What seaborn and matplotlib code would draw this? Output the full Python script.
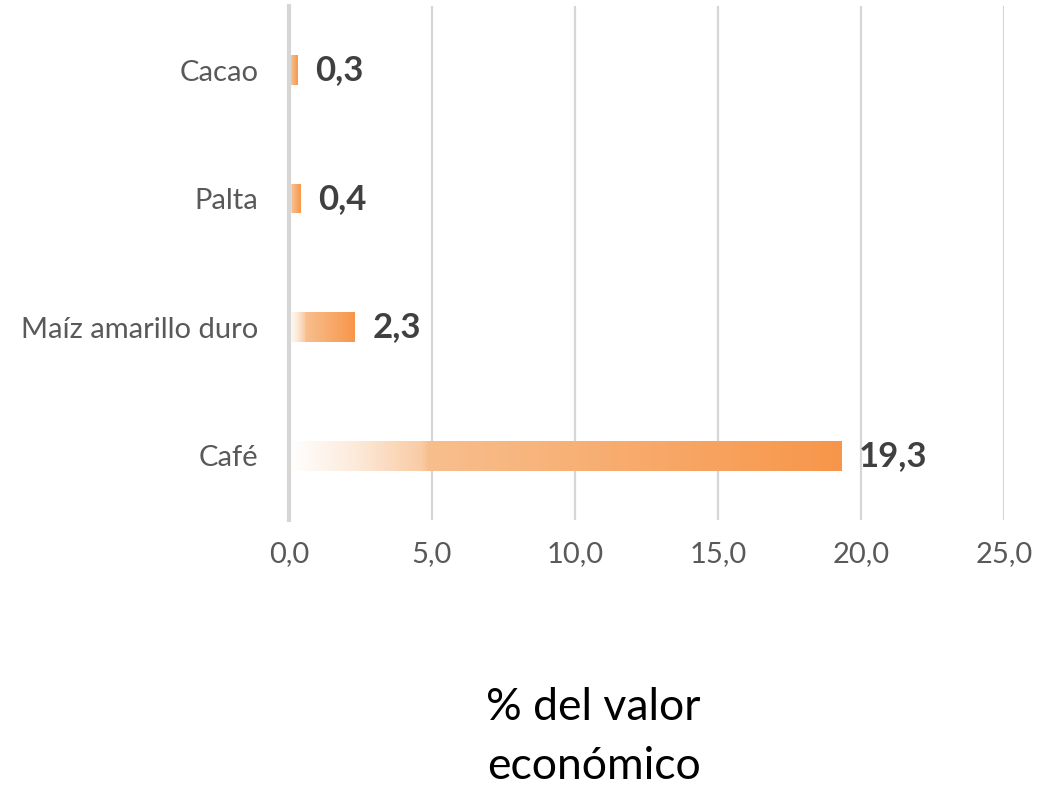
import numpy as np
import matplotlib
matplotlib.use("Agg")
import matplotlib.pyplot as plt
from matplotlib.colors import LinearSegmentedColormap
import seaborn as sns

# -------------------------------------------------------------
#  Datos
# -------------------------------------------------------------
cultivos = ["Cacao", "Palta", "Maíz amarillo duro", "Café"]
valores  = [0.3, 0.4, 2.3, 19.3]
etiquetas = ["0,3", "0,4", "2,3", "19,3"]
x_ticks  = [0, 5, 10, 15, 20, 25]
x_labels = ["0,0", "5,0", "10,0", "15,0", "20,0", "25,0"]

sns.set_theme(style="white")
plt.rcParams["font.family"] = ["Lato", "DejaVu Sans"]

fig = plt.figure(figsize=(10.5, 7.94), dpi=100)
ax = fig.add_axes([0.2752, 0.345, 0.681, 0.6476])

sns.barplot(x=valores, y=cultivos, orient="h", width=0.23,
            color="#F79646", ax=ax)

# degradado blanco -> naranja dentro de cada barra
cmap = LinearSegmentedColormap.from_list(
    "grad",
    [(0.0, "#FFFFFF"), (0.12, "#FCEADA"), (0.24, "#F9CBA4"),
     (0.25, "#F8BF8E"), (1.0, "#F7964A")],
)
grad = np.linspace(0, 1, 256).reshape(1, -1)
for patch in ax.patches:
    x0, y0 = patch.get_x(), patch.get_y()
    w, h = patch.get_width(), patch.get_height()
    patch.set_facecolor("none")
    patch.set_edgecolor("none")
    im = ax.imshow(grad, cmap=cmap, aspect="auto",
                   extent=[x0, x0 + w, y0 + h, y0], zorder=2)
    im.set_clip_path(patch)

for i, (v, lab) in enumerate(zip(valores, etiquetas)):
    ax.annotate(lab, xy=(v, i), xytext=(13, 0), textcoords="offset points",
                ha="left", va="center", fontsize=25, fontweight="bold",
                color="#404040")

ax.set_xlim(0, 25)
ax.set_ylim(3.5, -0.5)
ax.set_xticks(x_ticks)
ax.set_xticklabels(x_labels)
ax.grid(axis="x", color="#D6D6D6", linewidth=1.6, zorder=0)
ax.set_axisbelow(True)
for s in ["top", "right", "bottom"]:
    ax.spines[s].set_visible(False)
ax.spines["left"].set_color("#D6D6D6")
ax.spines["left"].set_linewidth(3)

ax.tick_params(axis="x", length=0, pad=15, labelsize=21, labelcolor="#595959")
ax.tick_params(axis="y", length=0, pad=22, labelsize=21, labelcolor="#595959")

ax.set_ylabel("")
ax.set_xlabel("% del valor\neconómico", fontsize=32, color="black",
              linespacing=1.55)
ax.xaxis.set_label_coords(0.426, -0.325)
ax.xaxis.label.set_va("top")

fig.savefig("out.png", dpi=100, facecolor="white")
